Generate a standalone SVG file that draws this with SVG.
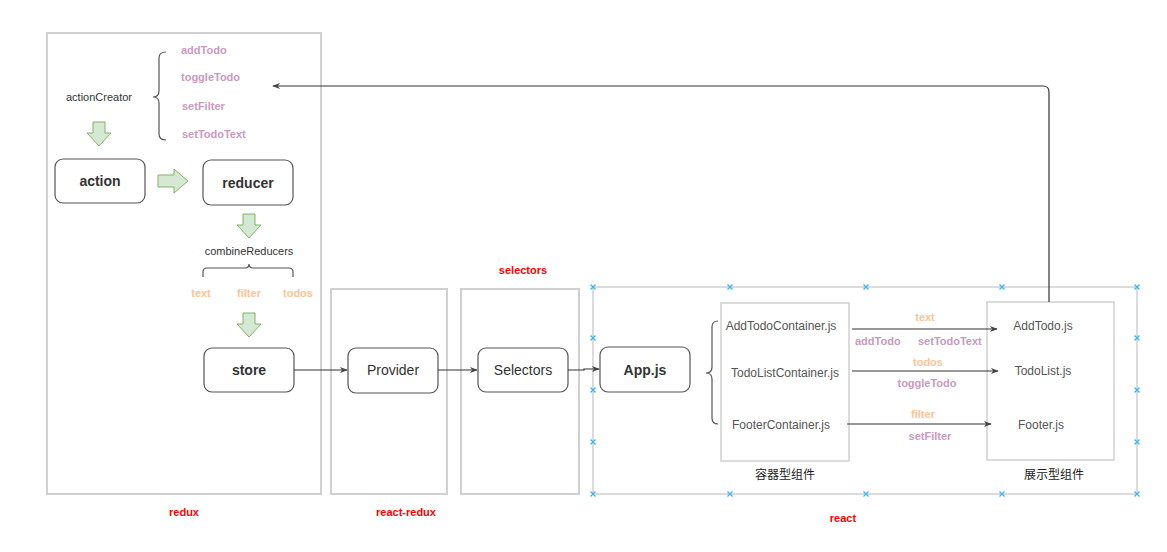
<svg xmlns="http://www.w3.org/2000/svg" width="1167" height="552" viewBox="0 0 1167 552">
<style>
text{font-family:"Liberation Sans",Arial,sans-serif;}
.frame{fill:none;stroke:#d0d0d0;stroke-width:2;}
.node{fill:#fff;stroke:#555;stroke-width:1.2;}
.nt{font-size:14px;fill:#333;text-anchor:middle;}
.ntb{font-size:14px;fill:#333;text-anchor:middle;font-weight:bold;}
.sm{font-size:11px;fill:#333;text-anchor:middle;}
.pk{font-size:11px;fill:#C89AC0;font-weight:bold;}
.og{font-size:11px;fill:#FFC290;font-weight:bold;text-anchor:middle;}
.red{font-size:11px;fill:#ff0000;font-weight:bold;text-anchor:middle;}
.cn{font-size:12px;fill:#555;text-anchor:middle;}
.cap{font-size:12px;fill:#222;text-anchor:middle;font-family:"Noto Sans CJK SC",sans-serif;}
.conn{fill:none;stroke:#333;stroke-width:1.2;}
.brace{fill:none;stroke:#555;stroke-width:1.2;}
.green{fill:#d5e8d4;stroke:#82b366;stroke-width:1;}
.mk{stroke:#3db5f0;stroke-width:1.3;}
</style>
<defs>
<marker id="ah" viewBox="0 0 10 10" refX="9" refY="5" markerWidth="8" markerHeight="8" markerUnits="userSpaceOnUse" orient="auto">
<path d="M0,1 L10,5 L0,9 L3,5 Z" fill="#444"/>
</marker>
<g id="x"><path d="M-2.5,-2.5 L2.5,2.5 M-2.5,2.5 L2.5,-2.5" class="mk"/></g>
<path id="dn" d="M-6,0 L6,0 L6,11 L12,11 L0,24 L-12,11 L-6,11 Z" class="green"/>
</defs>

<g id="frames">
<rect id="redux-frame" x="47" y="33" width="274" height="461" class="frame"/>
<rect id="react-redux-frame" x="331" y="289" width="116" height="205" class="frame"/>
<rect id="selectors-frame" x="461" y="289" width="118" height="205" class="frame"/>
<g id="react-frame">
<rect x="593" y="287" width="544" height="207" fill="none" stroke="#d0d0d0" stroke-width="1.5"/>
<use href="#x" x="593" y="287"/><use href="#x" x="730" y="287"/><use href="#x" x="866" y="287"/><use href="#x" x="1002" y="287"/><use href="#x" x="1137" y="287"/>
<use href="#x" x="593" y="494"/><use href="#x" x="730" y="494"/><use href="#x" x="866" y="494"/><use href="#x" x="1002" y="494"/><use href="#x" x="1137" y="494"/>
<use href="#x" x="593" y="338"/><use href="#x" x="593" y="390"/><use href="#x" x="593" y="442"/>
<use href="#x" x="1137" y="338"/><use href="#x" x="1137" y="390"/><use href="#x" x="1137" y="442"/>
</g>
</g>

<g id="labels">
<text x="523" y="274" class="red">selectors</text>
<text x="184" y="516" class="red">redux</text>
<text x="406" y="516" class="red">react-redux</text>
<text x="843" y="522" class="red">react</text>
</g>

<g id="actionCreator">
<text x="99" y="101" class="sm">actionCreator</text>
<path d="M166,52 Q159,52 159,58 L159,91 Q159,97 153,97 Q159,97 159,103 L159,134 Q159,140 166,140" class="brace"/>
<text x="181" y="54" class="pk">addTodo</text>
<text x="181" y="81" class="pk">toggleTodo</text>
<text x="182" y="110" class="pk">setFilter</text>
<text x="182" y="138" class="pk">setTodoText</text>
</g>

<g id="green-arrows">
<use href="#dn" x="99" y="122"/>
<path d="M158,175 L174,175 L174,169 L188,181 L174,193 L174,187 L158,187 Z" class="green"/>
<use href="#dn" x="249" y="214"/>
<use href="#dn" x="249" y="313"/>
</g>

<g id="action"><rect x="55" y="159" width="90" height="44" rx="8" class="node"/><text x="100" y="186" class="ntb">action</text></g>
<g id="reducer"><rect x="203" y="160" width="90" height="45" rx="8" class="node"/><text x="248" y="188" class="ntb">reducer</text></g>

<g id="combineReducers">
<text x="249" y="255" class="sm">combineReducers</text>
<path d="M203,277 L203,272 Q203,268 207,268 L245,268 Q249,268 249,264 Q249,268 253,268 L289,268 Q293,268 293,272 L293,277" class="brace"/>
<text x="201" y="297" class="og">text</text>
<text x="249" y="297" class="og">filter</text>
<text x="298" y="297" class="og">todos</text>
</g>

<g id="store"><rect x="204" y="348" width="90" height="44" rx="8" class="node"/><text x="249" y="375" class="ntb">store</text></g>
<g id="provider"><rect x="348" y="348" width="90" height="45" rx="8" class="node"/><text x="393" y="375" class="nt">Provider</text></g>
<g id="selectors"><rect x="478" y="348" width="90" height="44" rx="8" class="node"/><text x="523" y="375" class="nt">Selectors</text></g>
<g id="appjs"><rect x="600" y="347" width="90" height="45" rx="8" class="node"/><text x="645" y="375" class="ntb">App.js</text></g>

<g id="containers">
<rect x="721" y="303" width="128" height="158" fill="#fff" stroke="#d0d0d0" stroke-width="1.5"/>
<path d="M718,321 Q712,321 712,327 L712,367 Q712,373 706,373 Q712,373 712,379 L712,418 Q712,424 718,424" class="brace"/>
<text x="781" y="330" class="cn">AddTodoContainer.js</text>
<text x="785" y="377" class="cn">TodoListContainer.js</text>
<text x="781" y="429" class="cn">FooterContainer.js</text>
<text x="785" y="479" class="cap">容器型组件</text>
</g>

<g id="presentational">
<rect x="987" y="302" width="127" height="158" fill="#fff" stroke="#d0d0d0" stroke-width="1.5"/>
<text x="1043" y="330" class="cn">AddTodo.js</text>
<text x="1043" y="375" class="cn">TodoList.js</text>
<text x="1041" y="429" class="cn">Footer.js</text>
<text x="1054" y="479" class="cap">展示型组件</text>
</g>

<g id="connectors">
<path d="M294,370 L347,370" class="conn" marker-end="url(#ah)"/>
<path d="M438,370 L477,370" class="conn" marker-end="url(#ah)"/>
<path d="M568,370 L584,370 L584,369 L599,369" class="conn" marker-end="url(#ah)"/>
<path d="M852,329 L997,329" class="conn" marker-end="url(#ah)"/>
<path d="M852,371 L998,371" class="conn" marker-end="url(#ah)"/>
<path d="M847,424 L991,424" class="conn" marker-end="url(#ah)"/>
<path d="M1049,302 L1049,92 Q1049,86 1043,86 L273,86" class="conn" marker-end="url(#ah)"/>
<text x="925" y="321" class="og">text</text>
<text x="855" y="345" class="pk">addTodo</text>
<text x="918" y="345" class="pk">setTodoText</text>
<text x="928" y="366" class="og">todos</text>
<text x="927" y="387" class="pk" text-anchor="middle">toggleTodo</text>
<text x="923" y="418" class="og">filter</text>
<text x="930" y="440" class="pk" text-anchor="middle">setFilter</text>
</g>
</svg>
